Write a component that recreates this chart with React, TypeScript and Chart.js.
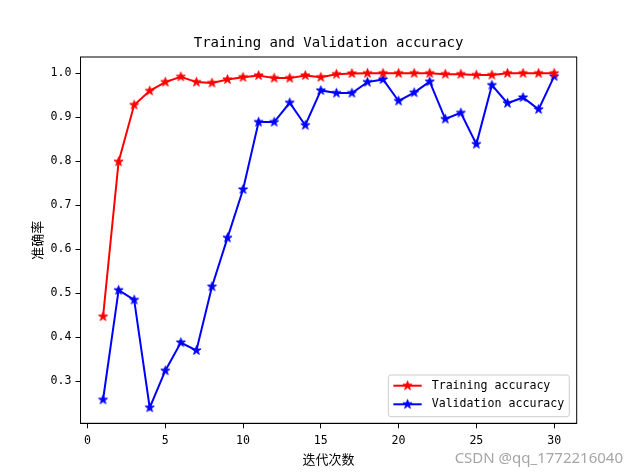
import React, { useEffect, useRef } from 'react';
import { Chart, registerables } from 'chart.js';

Chart.register(...registerables);

const epochs = [1, 2, 3, 4, 5, 6, 7, 8, 9, 10, 11, 12, 13, 14, 15, 16, 17, 18, 19, 20, 21, 22, 23, 24, 25, 26, 27, 28, 29, 30];
const trainAcc = [0.447, 0.799, 0.928, 0.960, 0.980, 0.992, 0.980, 0.978, 0.986, 0.991, 0.995, 0.989, 0.989, 0.995, 0.991, 0.998, 0.9995, 1.0, 1.0, 1.0, 1.0, 1.0, 0.998, 0.998, 0.996, 0.996, 1.0, 1.0, 1.0, 1.0];
const valAcc = [0.258, 0.507, 0.485, 0.240, 0.324, 0.388, 0.370, 0.515, 0.626, 0.736, 0.889, 0.889, 0.933, 0.882, 0.961, 0.955, 0.955, 0.980, 0.986, 0.937, 0.956, 0.981, 0.896, 0.910, 0.839, 0.973, 0.932, 0.945, 0.918, 0.993];
const xTicks = [0, 5, 10, 15, 20, 25, 30];
const yTicks = [0.3, 0.4, 0.5, 0.6, 0.7, 0.8, 0.9, 1.0];
const titleText = 'Training and Validation accuracy';
const xLabel = '迭代次数';
const yLabel = '准确率';
const legendLabels = ['Training accuracy', 'Validation accuracy'];
const seriesColors = ['#ff0000', '#0000ff'];
const watermark = 'CSDN @qq_1772216040';

const FONT = "'DejaVu Sans Mono', 'Noto Sans CJK SC', monospace";
const CJK = "'Noto Sans CJK SC', sans-serif";

function makeStar(color: string): HTMLCanvasElement {
  const s = 13;
  const c = document.createElement('canvas');
  c.width = s;
  c.height = s;
  const ctx = c.getContext('2d')!;
  const cx = s / 2, cy = s / 2;
  const R = 4.8, r = R * 0.382;
  ctx.beginPath();
  for (let i = 0; i < 10; i++) {
    const rad = i % 2 === 0 ? R : r;
    const a = -Math.PI / 2 + (i * Math.PI) / 5;
    ctx.lineTo(cx + rad * Math.cos(a), cy + rad * Math.sin(a));
  }
  ctx.closePath();
  ctx.fillStyle = color;
  ctx.fill();
  ctx.strokeStyle = color;
  ctx.lineWidth = 1;
  ctx.lineJoin = 'miter';
  ctx.stroke();
  return c;
}

export default function App() {
  const ref = useRef<HTMLCanvasElement | null>(null);

  useEffect(() => {
    if (!ref.current) return;
    const stars = seriesColors.map(makeStar);

    const framePlugin = {
      id: 'frame',
      afterDatasetsDraw(chart: any) {
        const { ctx, chartArea: a } = chart;
        ctx.save();
        ctx.strokeStyle = '#000';
        ctx.lineWidth = 1;
        ctx.strokeRect(a.left, a.top, a.right - a.left, a.bottom - a.top);
        ctx.restore();
      },
    };

    const legendPlugin = {
      id: 'customLegend',
      afterDraw(chart: any) {
        const { ctx, chartArea: a } = chart;
        ctx.save();
        ctx.font = `11.6px ${FONT}`;
        const tw = Math.max(...legendLabels.map((t) => ctx.measureText(t).width));
        const w = 5 + 28.3 + 10 + tw + 5;
        const h = 41.7;
        const right = a.right - 7.4;
        const bottom = a.bottom - 6.6;
        const left = right - w;
        const top = bottom - h;
        ctx.beginPath();
        if ((ctx as any).roundRect) (ctx as any).roundRect(left, top, w, h, 2.5);
        else ctx.rect(left, top, w, h);
        ctx.fillStyle = 'rgba(255,255,255,0.8)';
        ctx.fill();
        ctx.strokeStyle = '#cccccc';
        ctx.lineWidth = 1;
        ctx.stroke();
        const rows = [top + 10.7, top + 29.3];
        legendLabels.forEach((lab, i) => {
          const y = rows[i];
          const x0 = left + 5;
          const x1 = x0 + 28.3;
          ctx.beginPath();
          ctx.moveTo(x0, y);
          ctx.lineTo(x1, y);
          ctx.strokeStyle = seriesColors[i];
          ctx.lineWidth = 2;
          ctx.stroke();
          const st = stars[i];
          ctx.drawImage(st, (x0 + x1) / 2 - st.width / 2, y - st.height / 2);
          ctx.fillStyle = '#000';
          ctx.textBaseline = 'middle';
          ctx.textAlign = 'left';
          ctx.fillText(lab, x1 + 10, y);
        });
        // watermark
        ctx.font = "15px 'Noto Sans', sans-serif";
        ctx.fillStyle = '#a6a6a6';
        ctx.textAlign = 'right';
        ctx.textBaseline = 'middle';
        ctx.fillText(watermark, 623, 459);
        ctx.restore();
      },
    };

    const chart = new Chart(ref.current, {
      type: 'line',
      data: {
        datasets: [
          {
            label: legendLabels[0],
            data: epochs.map((x, i) => ({ x, y: trainAcc[i] })),
            borderColor: seriesColors[0],
            backgroundColor: seriesColors[0],
            borderWidth: 2,
            pointStyle: stars[0] as any,
            pointRadius: 5,
            tension: 0,
            fill: false,
          },
          {
            label: legendLabels[1],
            data: epochs.map((x, i) => ({ x, y: valAcc[i] })),
            borderColor: seriesColors[1],
            backgroundColor: seriesColors[1],
            borderWidth: 2,
            pointStyle: stars[1] as any,
            pointRadius: 5,
            tension: 0,
            fill: false,
          },
        ],
      },
      options: {
        responsive: false,
        animation: false,
        devicePixelRatio: 1,
        layout: { padding: { left: 0, right: 63.3, top: 0, bottom: 0 } },
        plugins: {
          legend: { display: false },
          tooltip: { enabled: false },
          title: {
            display: true,
            fullSize: false,
            text: titleText,
            color: '#000',
            font: { family: FONT, size: 14, weight: 'normal' as any, lineHeight: 1.2 },
            padding: { top: 34.6, bottom: 5.6 },
          },
        },
        scales: {
          x: {
            type: 'linear',
            min: -0.45,
            max: 31.45,
            afterBuildTicks: (scale: any) => {
              scale.ticks = xTicks.map((v) => ({ value: v }));
            },
            afterFit: (scale: any) => {
              scale.height = 52.7;
            },
            ticks: {
              color: '#000',
              font: { family: FONT, size: 11.6 },
              padding: 6,
              maxRotation: 0,
              autoSkip: false,
              callback: (v: any) => String(v),
            },
            grid: {
              display: true,
              drawOnChartArea: false,
              drawTicks: true,
              tickLength: 5,
              color: '#000',
              lineWidth: 1,
            },
            border: { display: true, color: '#000', width: 1 },
            title: {
              display: true,
              text: xLabel,
              color: '#000',
              font: { family: CJK, size: 13, lineHeight: 1.2 },
              padding: { top: 0, bottom: 9.2 },
            },
          },
          y: {
            type: 'linear',
            min: 0.2045,
            max: 1.037,
            afterBuildTicks: (scale: any) => {
              scale.ticks = yTicks.map((v) => ({ value: v }));
            },
            afterFit: (scale: any) => {
              scale.width = 80.5;
            },
            ticks: {
              color: '#000',
              font: { family: FONT, size: 11.6 },
              padding: 4,
              autoSkip: false,
              callback: (v: any) => Number(v).toFixed(1),
            },
            grid: {
              display: true,
              drawOnChartArea: false,
              drawTicks: true,
              tickLength: 5,
              color: '#000',
              lineWidth: 1,
            },
            border: { display: true, color: '#000', width: 1 },
            title: {
              display: true,
              text: yLabel,
              color: '#000',
              font: { family: CJK, size: 13, lineHeight: 1.2 },
              padding: { top: 29.2, bottom: 0 },
            },
          },
        },
      },
      plugins: [framePlugin, legendPlugin],
    } as any);

    return () => chart.destroy();
  }, []);

  return (
    <div style={{ position: 'absolute', left: 0, top: 0, width: 640, height: 476, background: '#fff' }}>
      <canvas ref={ref} width={640} height={476} style={{ display: 'block', width: 640, height: 476 }} />
    </div>
  );
}
